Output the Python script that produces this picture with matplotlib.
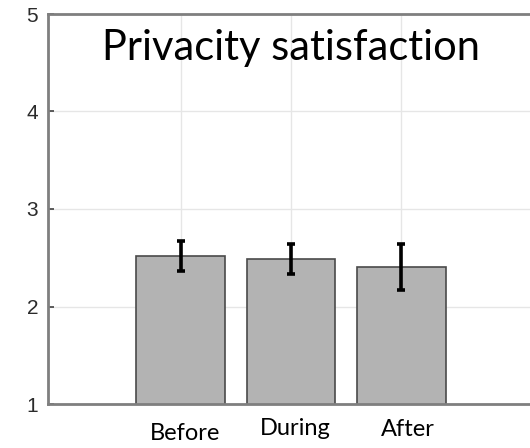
import numpy as np
import matplotlib
matplotlib.use("Agg")
import matplotlib.pyplot as plt

# survey scores for the three phases
phases = ["Before", "During", "After"]
means = [2.515, 2.487, 2.405]
errors = [0.155, 0.154, 0.232]
yticks = [1, 2, 3, 4, 5]

fig = plt.figure(figsize=(5.30, 4.48), dpi=100)
# the right edge of the box runs past the figure border
ax = fig.add_axes([48 / 530, 44 / 448, 486 / 530, 390 / 448])

x = np.arange(1, len(phases) + 1)
ax.bar(x, means, width=0.8, bottom=0, color="#b3b3b3", edgecolor="#4a4a4a",
       linewidth=1.2, zorder=2)
ax.errorbar(x, means, yerr=errors, fmt="none", ecolor="black", elinewidth=2.6,
            capsize=3.2, capthick=2.6, zorder=3)

ax.set_xlim(-0.2, 4.2)
ax.set_ylim(1, 5)
ax.set_xticks(x)
ax.set_xticklabels([])
ax.set_yticks(yticks)
ax.set_yticklabels([str(t) for t in yticks], fontfamily="Liberation Sans",
                   fontsize=15, color="#2b2b2b")
ax.tick_params(direction="in", length=4, width=1.2, color="#404040", pad=7)
ax.grid(True, color="#e6e6e6", linewidth=1.0, zorder=0)
ax.set_axisbelow(True)
for side in ["left", "bottom", "top"]:
    ax.spines[side].set_color("#7f7f7f")
    ax.spines[side].set_linewidth(2)
ax.spines["right"].set_visible(False)

ax.text(2, 4.53, "Privacity satisfaction", ha="center", va="baseline",
        fontfamily="Lato", fontsize=30, color="black")

# category names sit under the axis, slightly staggered
offsets = [(5, -36), (4, -31), (6, -32)]
for xi, name, (dx, dy) in zip(x, phases, offsets):
    ax.annotate(name, xy=(xi, 0), xycoords=("data", "axes fraction"),
                xytext=(dx, dy), textcoords="offset pixels", ha="center",
                va="baseline", fontfamily="Lato", fontsize=17, color="black")

fig.savefig("out.png", dpi=100)
